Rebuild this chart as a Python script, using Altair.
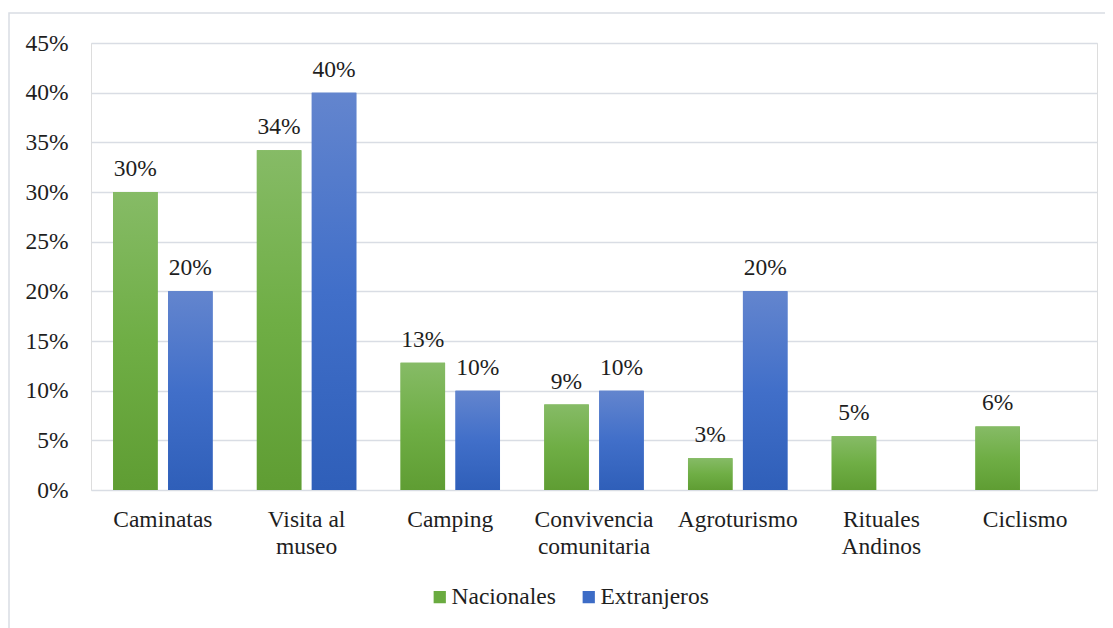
import altair as alt
import pandas as pd

categories = ["Caminatas", "Visita al|museo", "Camping", "Convivencia|comunitaria",
              "Agroturismo", "Rituales|Andinos", "Ciclismo"]
series = ["Nacionales", "Extranjeros"]
nacionales = [0.300, 0.342, 0.128, 0.086, 0.032, 0.054, 0.064]
extranjeros = [0.200, 0.400, 0.100, 0.100, 0.200, 0.0, 0.0]
y_ticks = [0, 0.05, 0.10, 0.15, 0.20, 0.25, 0.30, 0.35, 0.40, 0.45]

legend_colors = ["#6aab40", "#3d6cc6"]
green_grad = {"gradient": "linear", "x1": 0, "y1": 0, "x2": 0, "y2": 1,
              "stops": [{"offset": 0, "color": "#86bb66"},
                        {"offset": 0.5, "color": "#6fae45"},
                        {"offset": 1, "color": "#5f9d33"}]}
blue_grad = {"gradient": "linear", "x1": 0, "y1": 0, "x2": 0, "y2": 1,
             "stops": [{"offset": 0, "color": "#6385ce"},
                       {"offset": 0.5, "color": "#416fc9"},
                       {"offset": 1, "color": "#2f5fb9"}]}

rows = []
for c, n, e in zip(categories, nacionales, extranjeros):
    rows.append({"cat": c, "serie": "Nacionales", "value": n})
    rows.append({"cat": c, "serie": "Extranjeros", "value": e})
df = pd.DataFrame(rows)

FONT = "'Liberation Serif', 'Times New Roman', 'DejaVu Serif', serif"
FS = 23.5
TXT = "#1e1e1e"
GRID = "#d9dde4"

x_enc = alt.X("cat:N", sort=categories,
              scale=alt.Scale(paddingInner=0.308, paddingOuter=0.154),
              axis=alt.Axis(title=None, labelExpr="split(datum.label, '|')", labelAngle=0,
                            labelFont=FONT, labelFontSize=FS, labelColor=TXT,
                            domain=False, ticks=False, labelPadding=17,
                            labelBaseline="top", labelLineHeight=27, grid=False))
xo_enc = alt.XOffset("serie:N", sort=series,
                     scale=alt.Scale(domain=series, paddingInner=0.19, paddingOuter=0))
y_enc = alt.Y("value:Q", scale=alt.Scale(domain=[0, 0.45], nice=False),
              axis=alt.Axis(values=y_ticks, format=".0%", title=None, domain=False,
                            ticks=False, labelPadding=23, labelFont=FONT,
                            labelFontSize=FS, labelColor=TXT,
                            gridColor=GRID, gridWidth=1.5))

base = alt.Chart(df).transform_filter("datum.value > 0")

border = alt.Chart(pd.DataFrame({"a": [0]})).mark_rect(
    fill="transparent", stroke=GRID, strokeWidth=1.5
).encode(x=alt.value(-82), x2=alt.value(1040), y=alt.value(-30), y2=alt.value(620))

bars_legend = base.mark_bar().encode(
    x=x_enc, xOffset=xo_enc, y=y_enc,
    color=alt.Color("serie:N", sort=series,
                    scale=alt.Scale(domain=series, range=legend_colors),
                    legend=alt.Legend(title=None, orient="none", legendX=337, legendY=542,
                                      direction="horizontal", symbolType="square",
                                      symbolSize=150, symbolStrokeWidth=0, padding=0,
                                      labelFont=FONT, labelFontSize=FS, labelColor=TXT,
                                      columnPadding=21, labelOffset=0))
)

bars_green = base.transform_filter("datum.serie == 'Nacionales'").mark_bar(
    fill=green_grad).encode(x=x_enc, xOffset=xo_enc, y=y_enc)
bars_blue = base.transform_filter("datum.serie == 'Extranjeros'").mark_bar(
    fill=blue_grad).encode(x=x_enc, xOffset=xo_enc, y=y_enc)

labels = base.mark_text(font=FONT, fontSize=FS, baseline="alphabetic", dy=-16,
                        color=TXT).encode(
    x=x_enc, xOffset=xo_enc, y=y_enc, text=alt.Text("value:Q", format=".0%"))

chart = alt.layer(border, bars_legend, bars_green, bars_blue, labels).properties(
    width=1006, height=447,
    autosize=alt.AutoSizeParams(type="none"),
    padding={"left": 83, "top": 35, "right": 8, "bottom": 138},
).configure_view(stroke=None).configure(background="white", font=FONT)

chart.save("out.html", embed_options={"renderer": "svg", "actions": False})
